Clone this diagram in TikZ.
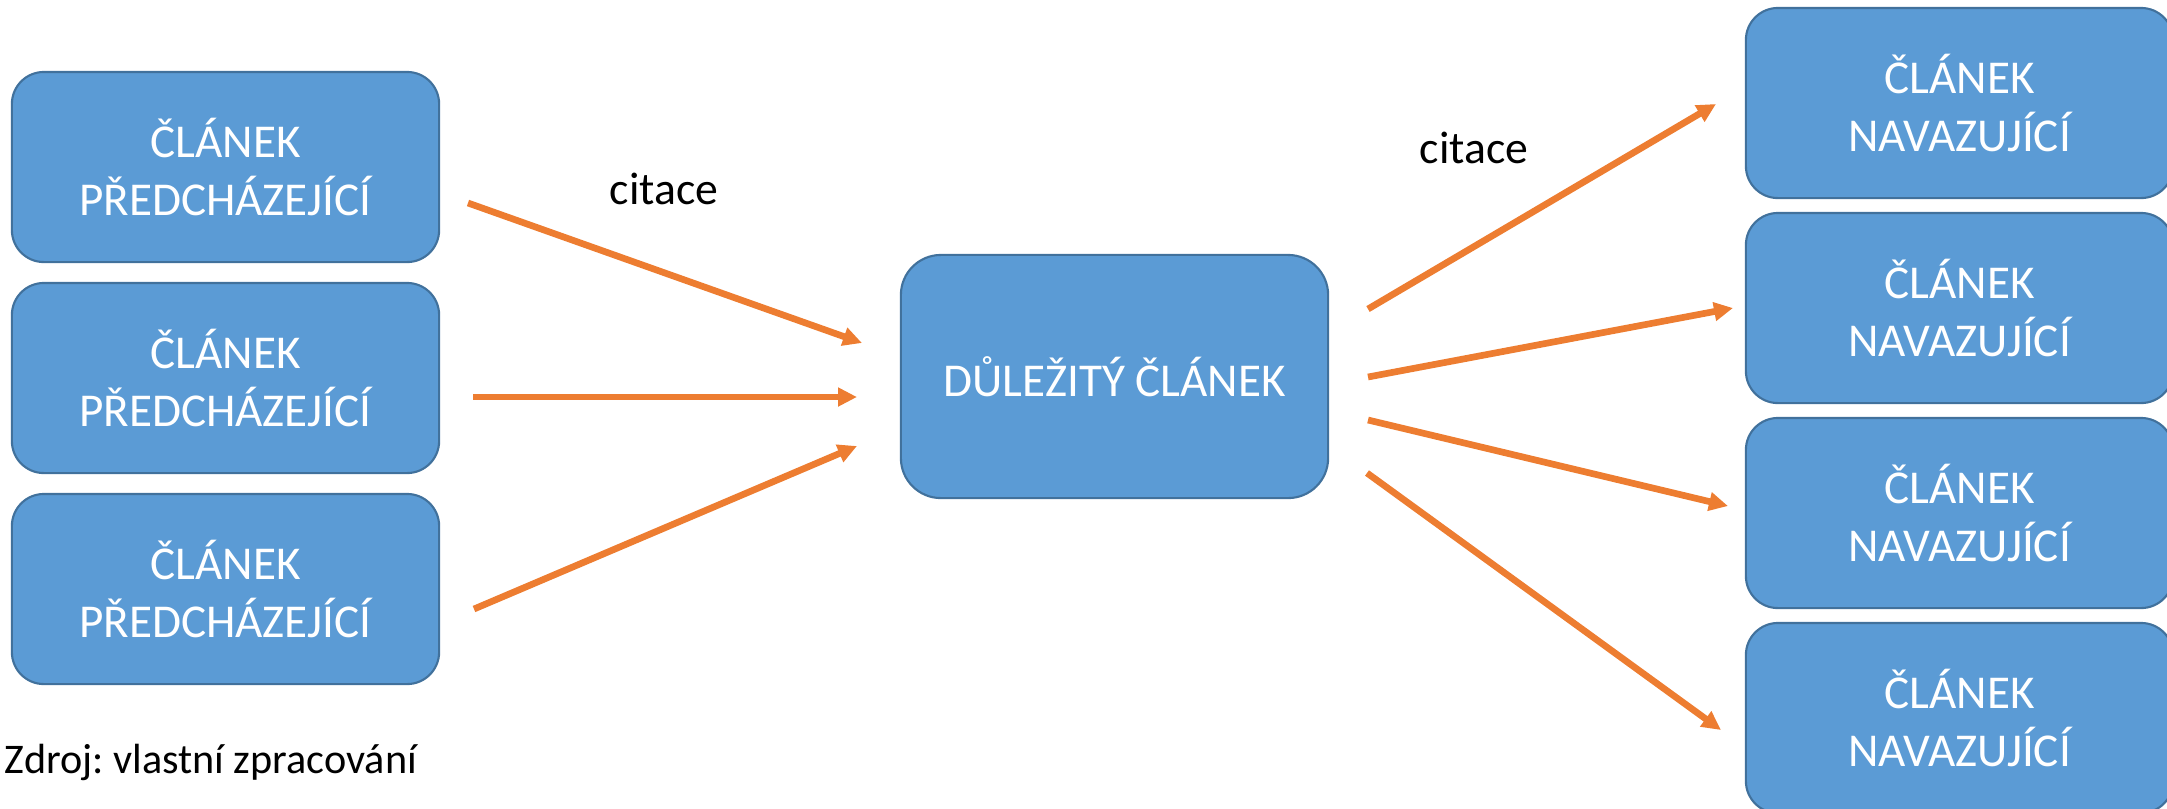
\documentclass[tikz,border=0pt]{standalone}
\usepackage{fontspec}
\setmainfont{Carlito}
\usetikzlibrary{arrows.meta}
\definecolor{boxblue}{HTML}{5B9BD5}
\definecolor{boxedge}{HTML}{41719C}
\definecolor{citeorange}{HTML}{ED7D31}
\frenchspacing
\begin{document}
\begin{tikzpicture}[x=0.01cm,y=-0.01cm,
    article/.style={draw=boxedge,line width=0.6pt,fill=boxblue,text=white,
      rounded corners=0.32cm,minimum width=4.27cm,minimum height=1.90cm,
      inner sep=0pt,align=center,font=\fontsize{13.4}{16.3}\selectfont},
    mainarticle/.style={article,rounded corners=0.40cm,minimum height=2.43cm},
    cite/.style={draw=citeorange,line width=1.9pt,
      -{Triangle[length=0.19cm,width=0.18cm]}},
    note/.style={anchor=base west,inner sep=0pt,font=\fontsize{13}{15.8}\selectfont}]
        \useasboundingbox (0,0) rectangle (2167,808);
        \node[article] (prev1) at (225.5,167) {ČLÁNEK\\PŘEDCHÁZEJÍCÍ};
        \node[article] (prev2) at (225.5,378) {ČLÁNEK\\PŘEDCHÁZEJÍCÍ};
        \node[article] (prev3) at (225.5,589) {ČLÁNEK\\PŘEDCHÁZEJÍCÍ};
        \node[mainarticle] (main) at (1114.5,376.5) {DŮLEŽITÝ ČLÁNEK};
        \node[article] (next1) at (1959.5,103) {ČLÁNEK\\NAVAZUJÍCÍ};
        \node[article] (next2) at (1959.5,308) {ČLÁNEK\\NAVAZUJÍCÍ};
        \node[article] (next3) at (1959.5,513) {ČLÁNEK\\NAVAZUJÍCÍ};
        \node[article] (next4) at (1959.5,718) {ČLÁNEK\\NAVAZUJÍCÍ};
        \coordinate (in1s) at (468,203);  \coordinate (in1e) at (862,343);
        \coordinate (in2s) at (473,397);  \coordinate (in2e) at (857,397);
        \coordinate (in3s) at (474,609);  \coordinate (in3e) at (857,446);
        \coordinate (out1s) at (1368,309); \coordinate (out1e) at (1716,104);
        \coordinate (out2s) at (1368,377); \coordinate (out2e) at (1733,308);
        \coordinate (out3s) at (1368,420); \coordinate (out3e) at (1728,506);
        \coordinate (out4s) at (1367,473); \coordinate (out4e) at (1721,730);
        \draw[cite] (in1s) -- (in1e);
        \draw[cite] (in2s) -- (in2e);
        \draw[cite] (in3s) -- (in3e);
        \draw[cite] (out1s) -- (out1e);
        \draw[cite] (out2s) -- (out2e);
        \draw[cite] (out3s) -- (out3e);
        \draw[cite] (out4s) -- (out4e);
        \node[note] (citein) at (609,204) {citace};
        \node[note] (citeout) at (1419,163) {citace};
        \node[note,font=\fontsize{12}{14.6}\selectfont] (source) at (4,773) {Zdroj: vlastní zpracování};
\end{tikzpicture}
\end{document}
